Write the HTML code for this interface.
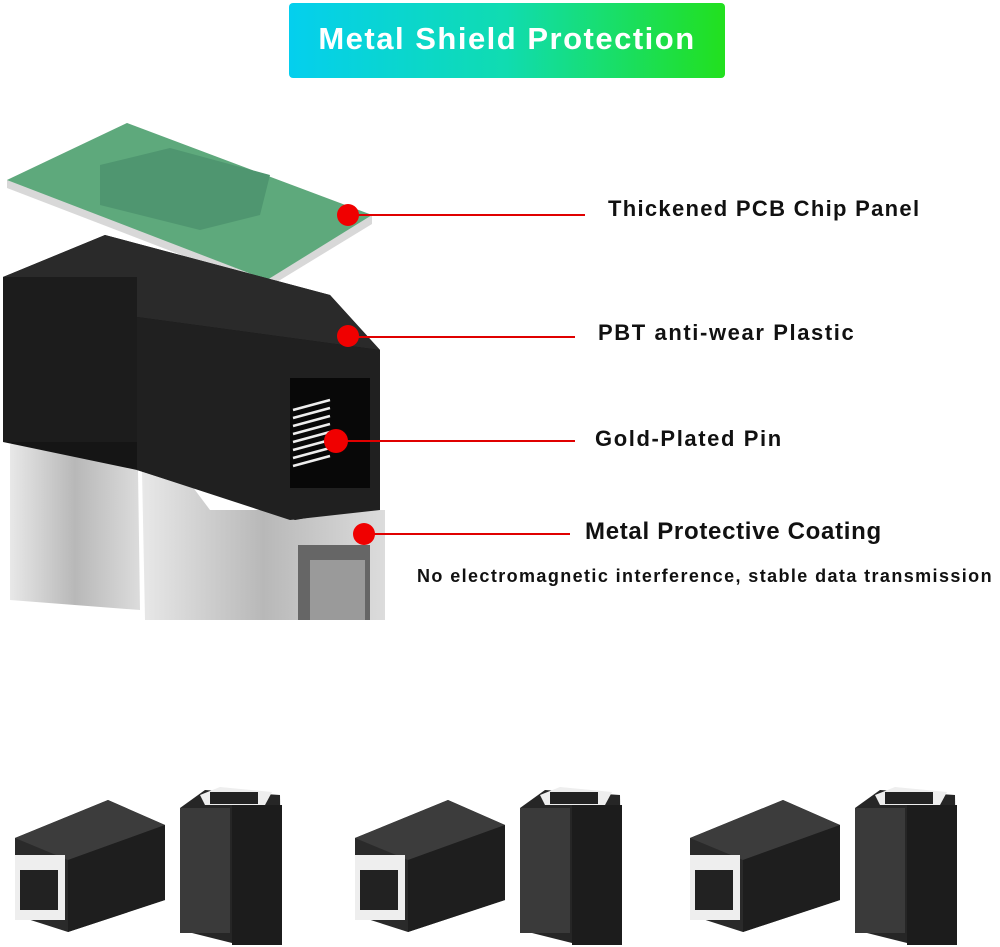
<!DOCTYPE html>
<html><head><meta charset="utf-8"><style>
body{margin:0;background:#fff;width:1000px;height:947px;overflow:hidden;position:relative;font-family:"Liberation Sans",sans-serif}
.t{position:absolute;font-weight:bold;color:#111;white-space:nowrap}
</style></head><body>
<svg width="1000" height="947" style="position:absolute;left:0;top:0">
<defs>
<linearGradient id="ban" x1="0" x2="1"><stop offset="0" stop-color="#04cfee"/><stop offset="0.5" stop-color="#10dcb0"/><stop offset="1" stop-color="#22e01e"/></linearGradient>
<linearGradient id="sil" x1="0" x2="1"><stop offset="0" stop-color="#e8e8e8"/><stop offset="0.5" stop-color="#b8b8b8"/><stop offset="1" stop-color="#dcdcdc"/></linearGradient>
<g id="pair">
 <polygon points="15,838 108,800 165,825 165,900 68,932 15,915" fill="#2a2a2a"/>
 <polygon points="15,838 108,800 165,825 68,860" fill="#3c3c3c"/>
 <rect x="15" y="855" width="50" height="65" fill="#eee"/>
 <rect x="20" y="870" width="38" height="40" fill="#222"/>
 <polygon points="68,860 165,825 165,900 68,932" fill="#1e1e1e"/>
 <polygon points="180,808 205,790 280,795 282,945 240,945 180,930" fill="#262626"/>
 <polygon points="200,795 220,787 272,792 265,805 205,805" fill="#eee"/>
 <rect x="210" y="792" width="48" height="12" fill="#222"/>
 <rect x="232" y="805" width="50" height="140" fill="#1c1c1c"/>
 <rect x="180" y="808" width="50" height="125" fill="#3a3a3a"/>
</g>
</defs>
<rect x="289" y="3" width="436" height="75" rx="4" fill="url(#ban)"/>
<polygon points="7,180 127,123 372,215 372,224 267,288 7,188" fill="#d8d8d8"/>
<polygon points="7,180 127,123 372,215 267,280" fill="#5ea97c"/>
<polygon points="100,165 170,148 270,175 260,215 200,230 100,205" fill="#4f9670"/>
<polygon points="10,445 40,415 110,415 138,470 140,610 10,600" fill="url(#sil)"/>
<polygon points="142,470 180,470 210,510 385,510 385,620 145,620" fill="url(#sil)"/>
<rect x="298" y="545" width="72" height="75" fill="#666"/>
<rect x="310" y="560" width="55" height="60" fill="#9a9a9a"/>
<polygon points="3,277 105,235 330,295 380,350 380,505 295,520 137,470 3,442" fill="#151515"/>
<polygon points="3,277 105,235 330,295 380,350 137,317" fill="#2a2a2a"/>
<rect x="3" y="277" width="134" height="165" fill="#1c1c1c"/>
<polygon points="137,317 380,350 380,510 290,520 137,470" fill="#202020"/>
<rect x="290" y="378" width="80" height="110" fill="#080808"/>
<g stroke="#eee" stroke-width="2.5"><line x1="293" y1="410" x2="330" y2="400"/><line x1="293" y1="418" x2="330" y2="408"/><line x1="293" y1="426" x2="330" y2="416"/><line x1="293" y1="434" x2="330" y2="424"/><line x1="293" y1="442" x2="330" y2="432"/><line x1="293" y1="450" x2="330" y2="440"/><line x1="293" y1="458" x2="330" y2="448"/><line x1="293" y1="466" x2="330" y2="456"/></g>
<g stroke="#e00000" stroke-width="2"><line x1="348" y1="215" x2="585" y2="215"/><line x1="348" y1="337" x2="575" y2="337"/><line x1="335" y1="441" x2="575" y2="441"/><line x1="362" y1="534" x2="570" y2="534"/></g>
<g fill="#f00000"><circle cx="348" cy="215" r="11"/><circle cx="348" cy="336" r="11"/><circle cx="336" cy="441" r="12"/><circle cx="364" cy="534" r="11"/></g>
<use href="#pair"/>
<use href="#pair" x="340"/>
<use href="#pair" x="675"/>
</svg>
<div class="t" style="left:289px;top:21px;width:436px;text-align:center;color:#fff;font-size:31px;letter-spacing:1.5px">Metal Shield Protection</div>
<div class="t" style="left:608px;top:196px;font-size:22px;letter-spacing:1.3px">Thickened PCB Chip Panel</div>
<div class="t" style="left:598px;top:320px;font-size:22px;letter-spacing:1.6px">PBT anti-wear Plastic</div>
<div class="t" style="left:595px;top:426px;font-size:22px;letter-spacing:1.6px">Gold-Plated Pin</div>
<div class="t" style="left:585px;top:518px;font-size:24px;letter-spacing:0.7px">Metal Protective Coating</div>
<div class="t" style="left:417px;top:566px;font-size:18px;letter-spacing:1.4px">No electromagnetic interference, stable data transmission</div>
</body></html>
